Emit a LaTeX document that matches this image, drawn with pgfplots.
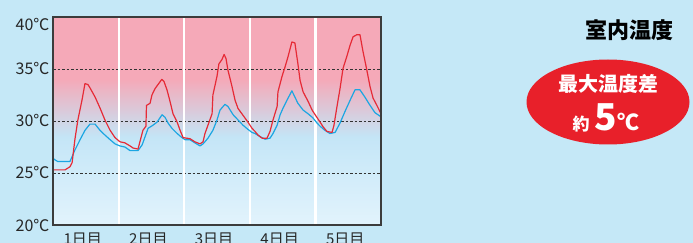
\documentclass[border=0pt]{standalone}
\usepackage{fontspec}
\setmainfont{Noto Sans CJK JP}
\usepackage{pgfplots}
\pgfplotsset{compat=1.18}
\definecolor{bgblue}{HTML}{C5E8F7}
\definecolor{lowblue}{HTML}{E2F3FC}
\definecolor{midblue}{HTML}{CDEAF9}
\definecolor{hiblue}{HTML}{C4E5F6}
\definecolor{pinkbg}{HTML}{F5A9B8}
\definecolor{axisgray}{HTML}{3C3C3C}
\definecolor{dashgray}{HTML}{333333}
\definecolor{redline}{HTML}{E62A36}
\definecolor{blueline}{HTML}{1BA6E2}
\definecolor{ellred}{HTML}{E8202A}
\begin{document}
\begin{tikzpicture}
\fill[bgblue] (0,0) rectangle (693bp,243bp);
\useasboundingbox (0,0) rectangle (693bp,243bp);
\begin{axis}[
  at={(53bp,18bp)}, anchor=south west,
  scale only axis, width=328bp, height=208bp,
  xmin=0, xmax=120, ymin=20, ymax=40,
  axis on top,
  axis line style={draw=axisgray, line width=1.1bp},
  tick style={draw=none},
  ytick={20,25,30,35,40},
  yticklabels={20℃,25℃,30℃,35℃,\raisebox{-14bp}[0pt][0pt]{40℃}},
  xtick={12,36,60,84,108},
  xticklabels={1日目,2日目,3日目,4日目,5日目},
  tick label style={font=\fontsize{16bp}{16bp}\selectfont, text=black!85},
  xticklabel style={font=\fontsize{15bp}{15bp}\selectfont, xshift=-3bp, yshift=-4bp},
]
% background
\fill[bottom color=lowblue, top color=midblue, draw=none] (axis cs:0,20) rectangle (axis cs:120,26.05);
\fill[bottom color=midblue, top color=hiblue, draw=none] (axis cs:0,26) rectangle (axis cs:120,28.55);
\fill[bottom color=hiblue, top color=pinkbg, draw=none] (axis cs:0,28.5) rectangle (axis cs:120,34.05);
\fill[pinkbg] (axis cs:0,34) rectangle (axis cs:120,40);
% dashed lines
\draw[dashgray, line width=0.9bp, dash pattern=on 2.5bp off 2bp] (axis cs:0,25) -- (axis cs:120,25);
\draw[dashgray, line width=0.9bp, dash pattern=on 2.5bp off 2bp] (axis cs:0,30) -- (axis cs:120,30);
\draw[dashgray, line width=0.9bp, dash pattern=on 2.5bp off 2bp] (axis cs:0,35) -- (axis cs:120,35);
% white day separators
\draw[white, line width=2.2bp] (axis cs:24,20) -- (axis cs:24,40);
\draw[white, line width=2.2bp] (axis cs:48,20) -- (axis cs:48,40);
\draw[white, line width=2.2bp] (axis cs:72,20) -- (axis cs:72,40);
\draw[white, line width=2.2bp] (axis cs:96,20) -- (axis cs:96,40);
\addplot[blueline, line width=1.2bp, line join=round] coordinates {
(0,26.4) (1.1,26.2) (1.8,26.1) (6.2,26.1) (8.0,27.2) (9.9,28.2) (11.7,29.1) (13.5,29.7) (15.4,29.7)
(17.2,29.1) (19.0,28.65) (20.9,28.2) (22.7,27.8) (24.5,27.6) (26.3,27.5) (28.2,27.15) (31.1,27.15)
(32.6,27.7) (33.7,28.5) (34.8,29.3) (36.6,29.6) (38.1,29.9) (39.9,30.6) (41.0,30.35) (42.1,29.8)
(43.5,29.3) (45.4,28.8) (47.2,28.4) (48.3,28.2) (50.1,28.2) (51.9,27.9) (53.8,27.6) (54.9,27.8)
(56.7,28.35) (58.5,29.1) (60.0,30.1) (61.1,31.05) (62.9,31.6) (64.0,31.4) (65.9,30.6) (67.7,30.1)
(69.5,29.6) (71.3,29.2) (72.8,28.9) (73.9,28.8) (75.7,28.5) (77.6,28.25) (79.4,28.35) (80.5,28.8)
(82.0,29.6) (83.1,30.6) (84.1,31.2) (85.6,32.0) (87.4,32.9) (88.5,32.3) (89.6,31.7) (91.5,31.05)
(93.3,30.7) (95.1,30.3) (96.6,29.8) (97.7,29.5) (99.5,29.1) (101.3,28.8) (103.2,28.9) (105.0,29.8)
(106.8,30.9) (108.7,32.0) (110.5,33.0) (112.3,33.0) (114.1,32.3) (116.0,31.5) (117.8,30.8) (120,30.4)
};
\addplot[redline, line width=1.2bp, line join=round] coordinates {
(0,25.3) (4.4,25.3) (6.2,25.6) (7.0,26.0) (8.0,28.2) (9.1,30.1) (10.6,32.0) (11.7,33.6) (12.8,33.5)
(13.5,33.2) (15.4,32.3) (17.2,31.25) (19.0,30.1) (20.9,29.1) (22.7,28.4) (24.5,28.0) (26.3,27.9)
(28.2,27.6) (29.3,27.4) (31.1,27.3) (31.8,28.0) (32.9,29.1) (34.0,29.5) (34.2,31.5) (35.5,31.7)
(36.2,32.5) (37.3,33.1) (38.4,33.5) (39.8,34.0) (40.6,33.8) (41.7,33.0) (42.8,31.9) (43.9,30.7)
(45.4,29.9) (46.5,29.1) (47.6,28.4) (50.1,28.3) (51.9,28.0) (53.8,27.8) (54.9,28.0) (55.6,28.8)
(56.7,29.6) (58.2,30.7) (58.5,32.5) (60.0,34.3) (60.7,35.5) (61.8,35.9) (62.6,36.4) (63.3,36.0)
(64.0,34.9) (65.5,33.3) (66.6,32.0) (67.7,31.2) (69.1,30.7) (70.2,30.3) (71.3,29.9) (72.8,29.3)
(73.9,29.0) (75.0,28.65) (76.5,28.35) (78.3,28.35) (79.4,29.0) (80.5,30.1) (82.0,31.4) (82.3,32.8)
(83.8,34.3) (84.9,35.2) (86.0,36.2) (87.4,37.6) (88.5,37.5) (89.6,35.5) (90.4,33.9) (91.5,32.8)
(93.3,31.9) (94.8,31.05) (95.9,30.6) (97.7,29.9) (98.8,29.45) (100.2,29.0) (102.1,28.9) (102.8,29.6)
(103.9,31.4) (105.0,33.1) (106.1,35.05) (107.6,36.3) (108.7,37.3) (109.8,38.1) (111.2,38.3) (112.3,38.3)
(113.4,36.7) (114.7,35.05) (116.0,33.3) (117.1,32.2) (118.5,31.5) (120,30.7)
};
\end{axis}
\node[black] at (629bp,213bp) {\fontsize{22bp}{22bp}\selectfont\bfseries 室内温度};
\fill[ellred] (608bp,141bp) ellipse [x radius=81.5bp, y radius=42.5bp];
\node[white] at (608bp,159bp) {\fontsize{20bp}{20bp}\selectfont\bfseries 最大温度差};
\node[white, anchor=base, inner sep=0pt] at (606bp,112bp) {\bfseries\fontsize{17bp}{17bp}\selectfont 約\hspace{5bp}\fontsize{37bp}{37bp}\selectfont 5\fontsize{22bp}{22bp}\selectfont ℃};
\end{tikzpicture}
\end{document}
